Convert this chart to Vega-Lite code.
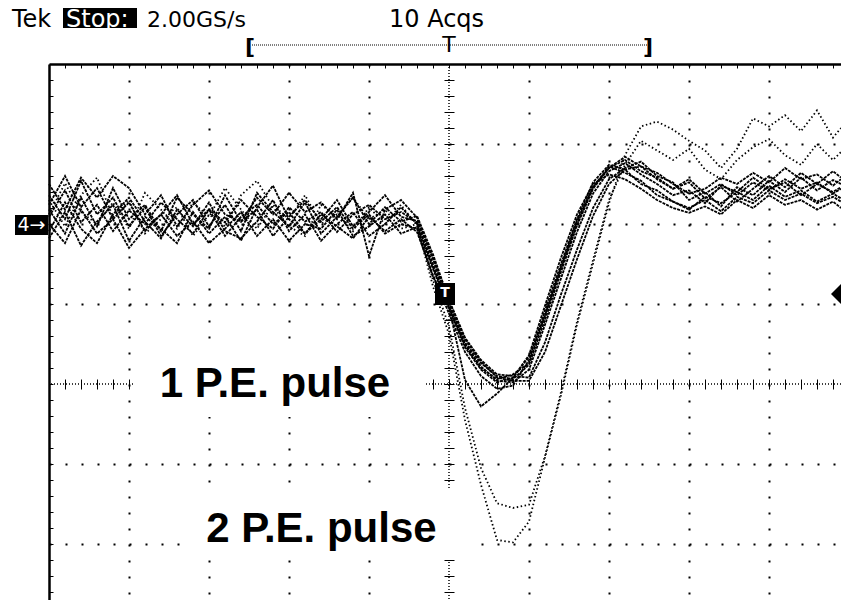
{
  "$schema": "https://vega.github.io/schema/vega-lite/v6.json",
  "width": 792,
  "height": 536,
  "autosize": {"type": "none"},
  "padding": {"left": 49, "top": 64, "right": 0, "bottom": 0},
  "background": "white",
  "config": {"view": {"stroke": null}, "font": "DejaVu Sans"},
  "datasets": {
    "pe1": [
      {"k":"a","t":-5,"v":2.09},{"k":"a","t":-4.8,"v":2.42},{"k":"a","t":-4.6,"v":2.02},{"k":"a","t":-4.4,"v":2.24},{"k":"a","t":-4.2,"v":1.91},{"k":"a","t":-4,"v":2.17},{"k":"a","t":-3.8,"v":2.00},{"k":"a","t":-3.6,"v":2.27},{"k":"a","t":-3.4,"v":2.06},{"k":"a","t":-3.2,"v":1.88},{"k":"a","t":-3,"v":2.18},{"k":"a","t":-2.8,"v":2.02},{"k":"a","t":-2.6,"v":2.30},{"k":"a","t":-2.4,"v":2.09},{"k":"a","t":-2.2,"v":1.94},{"k":"a","t":-2,"v":2.21},{"k":"a","t":-1.8,"v":2.03},{"k":"a","t":-1.6,"v":2.15},{"k":"a","t":-1.4,"v":1.90},{"k":"a","t":-1.2,"v":2.12},{"k":"a","t":-1,"v":2.24},{"k":"a","t":-0.8,"v":2.06},{"k":"a","t":-0.6,"v":2.15},{"k":"a","t":-0.4,"v":2.02},{"k":"a","t":-0.2,"v":1.50},{"k":"a","t":0,"v":0.98},{"k":"a","t":0.2,"v":0.50},{"k":"a","t":0.4,"v":0.22},{"k":"a","t":0.6,"v":0.04},{"k":"a","t":0.8,"v":0.02},{"k":"a","t":1,"v":0.18},{"k":"a","t":1.2,"v":0.74},{"k":"a","t":1.4,"v":1.32},{"k":"a","t":1.6,"v":1.90},{"k":"a","t":1.8,"v":2.38},{"k":"a","t":2,"v":2.66},{"k":"a","t":2.2,"v":2.76},{"k":"a","t":2.4,"v":2.62},{"k":"a","t":2.6,"v":2.50},{"k":"a","t":2.8,"v":2.36},{"k":"a","t":3,"v":2.42},{"k":"a","t":3.2,"v":2.26},{"k":"a","t":3.4,"v":2.48},{"k":"a","t":3.6,"v":2.40},{"k":"a","t":3.8,"v":2.58},{"k":"a","t":4,"v":2.44},{"k":"a","t":4.2,"v":2.52},{"k":"a","t":4.4,"v":2.36},{"k":"a","t":4.6,"v":2.50},{"k":"a","t":4.8,"v":2.40},{"k":"a","t":4.9,"v":2.46},
      {"k":"b","t":-5,"v":2.36},{"k":"b","t":-4.8,"v":2.06},{"k":"b","t":-4.6,"v":2.54},{"k":"b","t":-4.4,"v":2.12},{"k":"b","t":-4.2,"v":2.33},{"k":"b","t":-4,"v":1.97},{"k":"b","t":-3.8,"v":2.21},{"k":"b","t":-3.6,"v":1.85},{"k":"b","t":-3.4,"v":2.12},{"k":"b","t":-3.2,"v":2.30},{"k":"b","t":-3,"v":1.97},{"k":"b","t":-2.8,"v":2.24},{"k":"b","t":-2.6,"v":1.91},{"k":"b","t":-2.4,"v":2.39},{"k":"b","t":-2.2,"v":2.15},{"k":"b","t":-2,"v":1.97},{"k":"b","t":-1.8,"v":2.27},{"k":"b","t":-1.6,"v":1.88},{"k":"b","t":-1.4,"v":2.09},{"k":"b","t":-1.2,"v":2.33},{"k":"b","t":-1,"v":2.00},{"k":"b","t":-0.8,"v":2.21},{"k":"b","t":-0.6,"v":2.03},{"k":"b","t":-0.4,"v":2.10},{"k":"b","t":-0.2,"v":1.62},{"k":"b","t":0,"v":1.05},{"k":"b","t":0.2,"v":0.58},{"k":"b","t":0.4,"v":0.30},{"k":"b","t":0.6,"v":0.12},{"k":"b","t":0.8,"v":0.10},{"k":"b","t":1,"v":0.08},{"k":"b","t":1.2,"v":0.52},{"k":"b","t":1.4,"v":1.12},{"k":"b","t":1.6,"v":1.68},{"k":"b","t":1.8,"v":2.20},{"k":"b","t":2,"v":2.56},{"k":"b","t":2.2,"v":2.70},{"k":"b","t":2.4,"v":2.78},{"k":"b","t":2.6,"v":2.60},{"k":"b","t":2.8,"v":2.52},{"k":"b","t":3,"v":2.30},{"k":"b","t":3.2,"v":2.40},{"k":"b","t":3.4,"v":2.22},{"k":"b","t":3.6,"v":2.46},{"k":"b","t":3.8,"v":2.36},{"k":"b","t":4,"v":2.54},{"k":"b","t":4.2,"v":2.40},{"k":"b","t":4.4,"v":2.58},{"k":"b","t":4.6,"v":2.42},{"k":"b","t":4.8,"v":2.55},{"k":"b","t":4.9,"v":2.50},
      {"k":"c","t":-5,"v":1.82},{"k":"c","t":-4.8,"v":2.15},{"k":"c","t":-4.6,"v":1.73},{"k":"c","t":-4.4,"v":2.03},{"k":"c","t":-4.2,"v":2.24},{"k":"c","t":-4,"v":1.79},{"k":"c","t":-3.8,"v":2.09},{"k":"c","t":-3.6,"v":1.94},{"k":"c","t":-3.4,"v":1.76},{"k":"c","t":-3.2,"v":2.15},{"k":"c","t":-3,"v":1.88},{"k":"c","t":-2.8,"v":2.09},{"k":"c","t":-2.6,"v":1.79},{"k":"c","t":-2.4,"v":2.21},{"k":"c","t":-2.2,"v":2.48},{"k":"c","t":-2,"v":2.06},{"k":"c","t":-1.8,"v":1.88},{"k":"c","t":-1.6,"v":2.12},{"k":"c","t":-1.4,"v":1.97},{"k":"c","t":-1.2,"v":1.82},{"k":"c","t":-1,"v":2.09},{"k":"c","t":-0.8,"v":1.91},{"k":"c","t":-0.6,"v":2.06},{"k":"c","t":-0.4,"v":1.90},{"k":"c","t":-0.2,"v":1.36},{"k":"c","t":0,"v":0.88},{"k":"c","t":0.2,"v":0.40},{"k":"c","t":0.4,"v":0.10},{"k":"c","t":0.6,"v":-0.06},{"k":"c","t":0.8,"v":-0.02},{"k":"c","t":1,"v":0.30},{"k":"c","t":1.2,"v":0.92},{"k":"c","t":1.4,"v":1.50},{"k":"c","t":1.6,"v":2.06},{"k":"c","t":1.8,"v":2.52},{"k":"c","t":2,"v":2.74},{"k":"c","t":2.2,"v":2.68},{"k":"c","t":2.4,"v":2.50},{"k":"c","t":2.6,"v":2.42},{"k":"c","t":2.8,"v":2.28},{"k":"c","t":3,"v":2.18},{"k":"c","t":3.2,"v":2.34},{"k":"c","t":3.4,"v":2.26},{"k":"c","t":3.6,"v":2.40},{"k":"c","t":3.8,"v":2.30},{"k":"c","t":4,"v":2.48},{"k":"c","t":4.2,"v":2.34},{"k":"c","t":4.4,"v":2.42},{"k":"c","t":4.6,"v":2.28},{"k":"c","t":4.8,"v":2.38},{"k":"c","t":4.9,"v":2.32},
      {"k":"d","t":-5,"v":2.50},{"k":"d","t":-4.8,"v":2.18},{"k":"d","t":-4.6,"v":2.58},{"k":"d","t":-4.4,"v":2.33},{"k":"d","t":-4.2,"v":2.60},{"k":"d","t":-4,"v":2.45},{"k":"d","t":-3.8,"v":2.12},{"k":"d","t":-3.6,"v":2.36},{"k":"d","t":-3.4,"v":1.97},{"k":"d","t":-3.2,"v":2.24},{"k":"d","t":-3,"v":2.42},{"k":"d","t":-2.8,"v":2.12},{"k":"d","t":-2.6,"v":2.03},{"k":"d","t":-2.4,"v":2.33},{"k":"d","t":-2.2,"v":2.12},{"k":"d","t":-2,"v":2.39},{"k":"d","t":-1.8,"v":2.15},{"k":"d","t":-1.6,"v":2.27},{"k":"d","t":-1.4,"v":2.06},{"k":"d","t":-1.2,"v":2.39},{"k":"d","t":-1,"v":1.60},{"k":"d","t":-0.8,"v":2.18},{"k":"d","t":-0.6,"v":2.30},{"k":"d","t":-0.4,"v":2.08},{"k":"d","t":-0.2,"v":1.56},{"k":"d","t":0,"v":1.00},{"k":"d","t":0.2,"v":0.52},{"k":"d","t":0.4,"v":0.26},{"k":"d","t":0.6,"v":0.10},{"k":"d","t":0.8,"v":0.06},{"k":"d","t":1,"v":0.24},{"k":"d","t":1.2,"v":0.80},{"k":"d","t":1.4,"v":1.40},{"k":"d","t":1.6,"v":1.98},{"k":"d","t":1.8,"v":2.44},{"k":"d","t":2,"v":2.70},{"k":"d","t":2.2,"v":2.84},{"k":"d","t":2.4,"v":2.72},{"k":"d","t":2.6,"v":2.64},{"k":"d","t":2.8,"v":2.50},{"k":"d","t":3,"v":2.38},{"k":"d","t":3.2,"v":2.44},{"k":"d","t":3.4,"v":2.58},{"k":"d","t":3.6,"v":2.50},{"k":"d","t":3.8,"v":2.64},{"k":"d","t":4,"v":2.52},{"k":"d","t":4.2,"v":2.70},{"k":"d","t":4.4,"v":2.56},{"k":"d","t":4.6,"v":2.62},{"k":"d","t":4.8,"v":2.48},{"k":"d","t":4.9,"v":2.56},
      {"k":"e","t":-5,"v":2.00},{"k":"e","t":-4.8,"v":1.76},{"k":"e","t":-4.6,"v":2.18},{"k":"e","t":-4.4,"v":1.88},{"k":"e","t":-4.2,"v":2.06},{"k":"e","t":-4,"v":1.70},{"k":"e","t":-3.8,"v":1.94},{"k":"e","t":-3.6,"v":2.12},{"k":"e","t":-3.4,"v":1.85},{"k":"e","t":-3.2,"v":2.03},{"k":"e","t":-3,"v":1.76},{"k":"e","t":-2.8,"v":1.94},{"k":"e","t":-2.6,"v":2.15},{"k":"e","t":-2.4,"v":1.85},{"k":"e","t":-2.2,"v":2.06},{"k":"e","t":-2,"v":1.79},{"k":"e","t":-1.8,"v":2.00},{"k":"e","t":-1.6,"v":1.94},{"k":"e","t":-1.4,"v":2.18},{"k":"e","t":-1.2,"v":1.85},{"k":"e","t":-1,"v":1.97},{"k":"e","t":-0.8,"v":2.12},{"k":"e","t":-0.6,"v":1.88},{"k":"e","t":-0.4,"v":1.96},{"k":"e","t":-0.2,"v":1.44},{"k":"e","t":0,"v":0.94},{"k":"e","t":0.2,"v":0.46},{"k":"e","t":0.4,"v":0.18},{"k":"e","t":0.6,"v":0.02},{"k":"e","t":0.8,"v":0.08},{"k":"e","t":1,"v":0.36},{"k":"e","t":1.2,"v":0.98},{"k":"e","t":1.4,"v":1.58},{"k":"e","t":1.6,"v":2.12},{"k":"e","t":1.8,"v":2.50},{"k":"e","t":2,"v":2.62},{"k":"e","t":2.2,"v":2.56},{"k":"e","t":2.4,"v":2.44},{"k":"e","t":2.6,"v":2.30},{"k":"e","t":2.8,"v":2.20},{"k":"e","t":3,"v":2.14},{"k":"e","t":3.2,"v":2.22},{"k":"e","t":3.4,"v":2.12},{"k":"e","t":3.6,"v":2.30},{"k":"e","t":3.8,"v":2.20},{"k":"e","t":4,"v":2.36},{"k":"e","t":4.2,"v":2.24},{"k":"e","t":4.4,"v":2.30},{"k":"e","t":4.6,"v":2.18},{"k":"e","t":4.8,"v":2.28},{"k":"e","t":4.9,"v":2.20},
      {"k":"f","t":-5,"v":2.24},{"k":"f","t":-4.8,"v":2.60},{"k":"f","t":-4.6,"v":2.21},{"k":"f","t":-4.4,"v":2.45},{"k":"f","t":-4.2,"v":2.06},{"k":"f","t":-4,"v":2.27},{"k":"f","t":-3.8,"v":1.91},{"k":"f","t":-3.6,"v":2.12},{"k":"f","t":-3.4,"v":2.36},{"k":"f","t":-3.2,"v":2.00},{"k":"f","t":-3,"v":2.18},{"k":"f","t":-2.8,"v":1.85},{"k":"f","t":-2.6,"v":2.09},{"k":"f","t":-2.4,"v":2.24},{"k":"f","t":-2.2,"v":2.00},{"k":"f","t":-2,"v":2.15},{"k":"f","t":-1.8,"v":1.88},{"k":"f","t":-1.6,"v":2.06},{"k":"f","t":-1.4,"v":2.30},{"k":"f","t":-1.2,"v":1.97},{"k":"f","t":-1,"v":2.15},{"k":"f","t":-0.8,"v":2.36},{"k":"f","t":-0.6,"v":2.09},{"k":"f","t":-0.4,"v":2.04},{"k":"f","t":-0.2,"v":1.58},{"k":"f","t":0,"v":1.04},{"k":"f","t":0.2,"v":0.56},{"k":"f","t":0.4,"v":0.28},{"k":"f","t":0.6,"v":0.08},{"k":"f","t":0.8,"v":0.04},{"k":"f","t":1,"v":0.04},{"k":"f","t":1.2,"v":0.40},{"k":"f","t":1.4,"v":0.98},{"k":"f","t":1.6,"v":1.56},{"k":"f","t":1.8,"v":2.10},{"k":"f","t":2,"v":2.50},{"k":"f","t":2.2,"v":2.68},{"k":"f","t":2.4,"v":2.72},{"k":"f","t":2.6,"v":2.56},{"k":"f","t":2.8,"v":2.44},{"k":"f","t":3,"v":2.52},{"k":"f","t":3.2,"v":2.32},{"k":"f","t":3.4,"v":2.46},{"k":"f","t":3.6,"v":2.28},{"k":"f","t":3.8,"v":2.44},{"k":"f","t":4,"v":2.60},{"k":"f","t":4.2,"v":2.46},{"k":"f","t":4.4,"v":2.64},{"k":"f","t":4.6,"v":2.50},{"k":"f","t":4.8,"v":2.66},{"k":"f","t":4.9,"v":2.58},
      {"k":"g","t":-5,"v":2.18},{"k":"g","t":-4.8,"v":1.88},{"k":"g","t":-4.6,"v":2.33},{"k":"g","t":-4.4,"v":1.97},{"k":"g","t":-4.2,"v":2.45},{"k":"g","t":-4,"v":2.06},{"k":"g","t":-3.8,"v":2.24},{"k":"g","t":-3.6,"v":1.91},{"k":"g","t":-3.4,"v":2.33},{"k":"g","t":-3.2,"v":2.12},{"k":"g","t":-3,"v":1.94},{"k":"g","t":-2.8,"v":2.36},{"k":"g","t":-2.6,"v":2.03},{"k":"g","t":-2.4,"v":2.18},{"k":"g","t":-2.2,"v":1.85},{"k":"g","t":-2,"v":2.09},{"k":"g","t":-1.8,"v":2.30},{"k":"g","t":-1.6,"v":2.03},{"k":"g","t":-1.4,"v":2.21},{"k":"g","t":-1.2,"v":1.94},{"k":"g","t":-1,"v":2.12},{"k":"g","t":-0.8,"v":1.88},{"k":"g","t":-0.6,"v":2.00},{"k":"g","t":-0.4,"v":1.94},{"k":"g","t":-0.2,"v":1.34},{"k":"g","t":0,"v":0.96},{"k":"g","t":0.2,"v":0.05},{"k":"g","t":0.4,"v":-0.28},{"k":"g","t":0.6,"v":-0.12},{"k":"g","t":0.8,"v":0.08},{"k":"g","t":1,"v":0.34},{"k":"g","t":1.2,"v":0.86},{"k":"g","t":1.4,"v":1.44},{"k":"g","t":1.6,"v":2.00},{"k":"g","t":1.8,"v":2.46},{"k":"g","t":2,"v":2.70},{"k":"g","t":2.2,"v":2.80},{"k":"g","t":2.4,"v":2.66},{"k":"g","t":2.6,"v":2.58},{"k":"g","t":2.8,"v":2.44},{"k":"g","t":3,"v":2.56},{"k":"g","t":3.2,"v":2.38},{"k":"g","t":3.4,"v":2.50},{"k":"g","t":3.6,"v":2.36},{"k":"g","t":3.8,"v":2.52},{"k":"g","t":4,"v":2.42},{"k":"g","t":4.2,"v":2.56},{"k":"g","t":4.4,"v":2.44},{"k":"g","t":4.6,"v":2.52},{"k":"g","t":4.8,"v":2.38},{"k":"g","t":4.9,"v":2.44},
      {"k":"h","t":-5,"v":1.91},{"k":"h","t":-4.8,"v":2.27},{"k":"h","t":-4.6,"v":1.94},{"k":"h","t":-4.4,"v":1.76},{"k":"h","t":-4.2,"v":2.12},{"k":"h","t":-4,"v":2.33},{"k":"h","t":-3.8,"v":2.03},{"k":"h","t":-3.6,"v":1.82},{"k":"h","t":-3.4,"v":2.18},{"k":"h","t":-3.2,"v":1.97},{"k":"h","t":-3,"v":2.27},{"k":"h","t":-2.8,"v":1.91},{"k":"h","t":-2.6,"v":1.82},{"k":"h","t":-2.4,"v":2.03},{"k":"h","t":-2.2,"v":2.30},{"k":"h","t":-2,"v":1.91},{"k":"h","t":-1.8,"v":2.12},{"k":"h","t":-1.6,"v":1.79},{"k":"h","t":-1.4,"v":2.00},{"k":"h","t":-1.2,"v":2.15},{"k":"h","t":-1,"v":1.85},{"k":"h","t":-0.8,"v":2.00},{"k":"h","t":-0.6,"v":2.21},{"k":"h","t":-0.4,"v":2.00},{"k":"h","t":-0.2,"v":1.46},{"k":"h","t":0,"v":0.96},{"k":"h","t":0.2,"v":0.48},{"k":"h","t":0.4,"v":0.20},{"k":"h","t":0.6,"v":0.06},{"k":"h","t":0.8,"v":0.12},{"k":"h","t":1,"v":0.26},{"k":"h","t":1.2,"v":0.86},{"k":"h","t":1.4,"v":1.46},{"k":"h","t":1.6,"v":2.04},{"k":"h","t":1.8,"v":2.46},{"k":"h","t":2,"v":2.72},{"k":"h","t":2.2,"v":2.64},{"k":"h","t":2.4,"v":2.54},{"k":"h","t":2.6,"v":2.36},{"k":"h","t":2.8,"v":2.28},{"k":"h","t":3,"v":2.20},{"k":"h","t":3.2,"v":2.30},{"k":"h","t":3.4,"v":2.16},{"k":"h","t":3.6,"v":2.34},{"k":"h","t":3.8,"v":2.26},{"k":"h","t":4,"v":2.42},{"k":"h","t":4.2,"v":2.30},{"k":"h","t":4.4,"v":2.38},{"k":"h","t":4.6,"v":2.26},{"k":"h","t":4.8,"v":2.34},{"k":"h","t":4.9,"v":2.28}
    ],
    "pe2": [
      {"k":"i","t":-5,"v":2.12},{"k":"i","t":-4.8,"v":2.51},{"k":"i","t":-4.6,"v":2.15},{"k":"i","t":-4.4,"v":2.00},{"k":"i","t":-4.2,"v":2.27},{"k":"i","t":-4,"v":1.94},{"k":"i","t":-3.8,"v":2.39},{"k":"i","t":-3.6,"v":2.18},{"k":"i","t":-3.4,"v":1.94},{"k":"i","t":-3.2,"v":2.27},{"k":"i","t":-3,"v":2.09},{"k":"i","t":-2.8,"v":2.45},{"k":"i","t":-2.6,"v":2.18},{"k":"i","t":-2.4,"v":1.94},{"k":"i","t":-2.2,"v":2.24},{"k":"i","t":-2,"v":2.06},{"k":"i","t":-1.8,"v":2.36},{"k":"i","t":-1.6,"v":2.00},{"k":"i","t":-1.4,"v":2.12},{"k":"i","t":-1.2,"v":1.91},{"k":"i","t":-1,"v":2.21},{"k":"i","t":-0.8,"v":2.00},{"k":"i","t":-0.6,"v":2.24},{"k":"i","t":-0.4,"v":1.98},{"k":"i","t":-0.2,"v":1.22},{"k":"i","t":0,"v":0.62},{"k":"i","t":0.2,"v":-0.45},{"k":"i","t":0.4,"v":-1.26},{"k":"i","t":0.6,"v":-1.95},{"k":"i","t":0.8,"v":-1.98},{"k":"i","t":1,"v":-1.72},{"k":"i","t":1.2,"v":-0.92},{"k":"i","t":1.4,"v":-0.14},{"k":"i","t":1.6,"v":0.74},{"k":"i","t":1.8,"v":1.50},{"k":"i","t":2,"v":2.26},{"k":"i","t":2.2,"v":2.86},{"k":"i","t":2.4,"v":3.22},{"k":"i","t":2.6,"v":3.28},{"k":"i","t":2.8,"v":3.18},{"k":"i","t":3,"v":3.04},{"k":"i","t":3.2,"v":2.92},{"k":"i","t":3.4,"v":2.70},{"k":"i","t":3.6,"v":2.94},{"k":"i","t":3.8,"v":3.32},{"k":"i","t":4,"v":3.22},{"k":"i","t":4.2,"v":3.36},{"k":"i","t":4.4,"v":3.16},{"k":"i","t":4.6,"v":3.42},{"k":"i","t":4.8,"v":3.08},{"k":"i","t":4.9,"v":3.20},
      {"k":"j","t":-5,"v":2.30},{"k":"j","t":-4.8,"v":1.97},{"k":"j","t":-4.6,"v":2.36},{"k":"j","t":-4.4,"v":2.58},{"k":"j","t":-4.2,"v":2.09},{"k":"j","t":-4,"v":2.30},{"k":"j","t":-3.8,"v":1.88},{"k":"j","t":-3.6,"v":2.06},{"k":"j","t":-3.4,"v":2.21},{"k":"j","t":-3.2,"v":1.85},{"k":"j","t":-3,"v":2.12},{"k":"j","t":-2.8,"v":1.97},{"k":"j","t":-2.6,"v":2.36},{"k":"j","t":-2.4,"v":2.54},{"k":"j","t":-2.2,"v":2.21},{"k":"j","t":-2,"v":1.97},{"k":"j","t":-1.8,"v":1.85},{"k":"j","t":-1.6,"v":2.24},{"k":"j","t":-1.4,"v":2.09},{"k":"j","t":-1.2,"v":2.33},{"k":"j","t":-1,"v":2.06},{"k":"j","t":-0.8,"v":2.18},{"k":"j","t":-0.6,"v":1.94},{"k":"j","t":-0.4,"v":2.00},{"k":"j","t":-0.2,"v":1.30},{"k":"j","t":0,"v":0.72},{"k":"j","t":0.2,"v":-0.30},{"k":"j","t":0.4,"v":-1.05},{"k":"j","t":0.6,"v":-1.49},{"k":"j","t":0.8,"v":-1.55},{"k":"j","t":1,"v":-1.51},{"k":"j","t":1.2,"v":-0.90},{"k":"j","t":1.4,"v":-0.10},{"k":"j","t":1.6,"v":0.78},{"k":"j","t":1.8,"v":1.55},{"k":"j","t":2,"v":2.30},{"k":"j","t":2.2,"v":2.74},{"k":"j","t":2.4,"v":3.04},{"k":"j","t":2.6,"v":2.92},{"k":"j","t":2.8,"v":2.80},{"k":"j","t":3,"v":2.94},{"k":"j","t":3.2,"v":2.68},{"k":"j","t":3.4,"v":2.56},{"k":"j","t":3.6,"v":2.80},{"k":"j","t":3.8,"v":2.96},{"k":"j","t":4,"v":3.06},{"k":"j","t":4.2,"v":2.86},{"k":"j","t":4.4,"v":2.74},{"k":"j","t":4.6,"v":3.00},{"k":"j","t":4.8,"v":2.80},{"k":"j","t":4.9,"v":2.90}
    ],
    "one": [{}]
  },
  "resolve": {"axis": {"x": "independent", "y": "independent"}},
  "layer": [
    {
      "data": {"name": "one"},
      "mark": {"type": "rule", "stroke": "black", "strokeWidth": 1.5, "strokeDash": [1, 2]},
      "encoding": {
        "y": {"datum": 0, "type": "quantitative", "scale": {"domain": [-2.7, 4], "nice": false, "zero": false},
          "axis": {"orient": "left", "offset": -405, "values": [-2.6,-2.4,-2.2,-2,-1.8,-1.6,-1.4,-1.2,-1,-0.8,-0.6,-0.4,-0.2,0,0.2,0.4,0.6,0.8,1,1.2,1.4,1.6,1.8,2,2.2,2.4,2.6,2.8,3,3.2,3.4,3.6,3.8],
            "tickSize": 10, "tickColor": "black", "tickWidth": 1, "domain": false, "labels": false, "grid": false, "title": null}}
      }
    },
    {
      "data": {"name": "one"},
      "mark": {"type": "rule", "stroke": "black", "strokeWidth": 1.5, "strokeDash": [1, 2]},
      "encoding": {
        "x": {"datum": 0, "type": "quantitative", "scale": {"domain": [-5, 4.9], "nice": false, "zero": false},
          "axis": {"orient": "top", "offset": -325, "values": [-5,-4.8,-4.6,-4.4,-4.2,-4,-3.8,-3.6,-3.4,-3.2,-3,-2.8,-2.6,-2.4,-2.2,-2,-1.8,-1.6,-1.4,-1.2,-1,-0.8,-0.6,-0.4,-0.2,0,0.2,0.4,0.6,0.8,1,1.2,1.4,1.6,1.8,2,2.2,2.4,2.6,2.8,3,3.2,3.4,3.6,3.8,4,4.2,4.4,4.6,4.8],
            "tickSize": 10, "tickColor": "black", "tickWidth": 1, "domain": false, "labels": false, "grid": false, "title": null}}
      }
    },
    {
      "data": {"name": "one"},
      "mark": {"type": "rect", "fill": "white"},
      "encoding": {
        "x": {"datum": -3.95, "type": "quantitative", "scale": {"domain": [-5, 4.9], "nice": false, "zero": false}, "axis": null},
        "x2": {"datum": -0.3},
        "y": {"datum": 0.4875, "type": "quantitative", "scale": {"domain": [-2.7, 4], "nice": false, "zero": false}, "axis": null},
        "y2": {"datum": -0.4125}
      }
    },
    {
      "data": {"name": "one"},
      "mark": {"type": "text", "font": "Liberation Sans", "fontSize": 42, "fontWeight": "bold", "align": "center", "baseline": "alphabetic", "color": "black"},
      "encoding": {
        "x": {"datum": -2.175, "type": "quantitative", "scale": {"domain": [-5, 4.9], "nice": false, "zero": false}, "axis": null},
        "y": {"datum": -0.1625, "type": "quantitative", "scale": {"domain": [-2.7, 4], "nice": false, "zero": false}, "axis": null},
        "text": {"value": "1 P.E. pulse"}
      }
    },
    {
      "data": {"name": "one"},
      "mark": {"type": "rect", "fill": "white"},
      "encoding": {
        "x": {"datum": -3.3375, "type": "quantitative", "scale": {"domain": [-5, 4.9], "nice": false, "zero": false}, "axis": null},
        "x2": {"datum": 0.2625},
        "y": {"datum": -1.325, "type": "quantitative", "scale": {"domain": [-2.7, 4], "nice": false, "zero": false}, "axis": null},
        "y2": {"datum": -2.2}
      }
    },
    {
      "data": {"name": "one"},
      "mark": {"type": "text", "font": "Liberation Sans", "fontSize": 42, "fontWeight": "bold", "align": "center", "baseline": "alphabetic", "color": "black"},
      "encoding": {
        "x": {"datum": -1.594, "type": "quantitative", "scale": {"domain": [-5, 4.9], "nice": false, "zero": false}, "axis": null},
        "y": {"datum": -1.975, "type": "quantitative", "scale": {"domain": [-2.7, 4], "nice": false, "zero": false}, "axis": null},
        "text": {"value": "2 P.E. pulse"}
      }
    },
    {
      "data": {"name": "pe1"},
      "mark": {"type": "line", "stroke": "black", "strokeWidth": 1.8, "strokeDash": [3, 1]},
      "encoding": {
        "x": {"field": "t", "type": "quantitative", "scale": {"domain": [-5, 4.9], "nice": false, "zero": false},
          "axis": {"orient": "bottom", "values": [-4,-3,-2,-1,1,2,3,4], "domain": false, "ticks": false, "labels": false, "title": null,
            "grid": true, "gridColor": "black", "gridOpacity": 1, "gridWidth": 2, "gridDash": [2, 14]}},
        "y": {"field": "v", "type": "quantitative", "scale": {"domain": [-2.7, 4], "nice": false, "zero": false},
          "axis": {"orient": "left", "values": [-2,-1,1,2,3], "domain": false, "ticks": false, "labels": false, "title": null,
            "grid": true, "gridColor": "black", "gridOpacity": 1, "gridWidth": 2, "gridDash": [2, 14]}},
        "detail": {"field": "k"}
      }
    },
    {
      "data": {"name": "pe2"},
      "mark": {"type": "line", "stroke": "black", "strokeWidth": 1.8, "strokeDash": [1.5, 2.5]},
      "encoding": {
        "x": {"field": "t", "type": "quantitative", "scale": {"domain": [-5, 4.9], "nice": false, "zero": false},
          "axis": {"orient": "top", "values": [-5,-4.8,-4.6,-4.4,-4.2,-4,-3.8,-3.6,-3.4,-3.2,-3,-2.8,-2.6,-2.4,-2.2,-2,-1.8,-1.6,-1.4,-1.2,-1,-0.8,-0.6,-0.4,-0.2,0,0.2,0.4,0.6,0.8,1,1.2,1.4,1.6,1.8,2,2.2,2.4,2.6,2.8,3,3.2,3.4,3.6,3.8,4,4.2,4.4,4.6,4.8],
            "domain": true, "domainColor": "black", "domainWidth": 2.5, "tickSize": -4, "tickColor": "black", "tickWidth": 1, "labels": false, "grid": false, "title": null}},
        "y": {"field": "v", "type": "quantitative", "scale": {"domain": [-2.7, 4], "nice": false, "zero": false},
          "axis": {"orient": "left", "values": [-2.6,-2.4,-2.2,-2,-1.8,-1.6,-1.4,-1.2,-1,-0.8,-0.6,-0.4,-0.2,0,0.2,0.4,0.6,0.8,1,1.2,1.4,1.6,1.8,2,2.2,2.4,2.6,2.8,3,3.2,3.4,3.6,3.8],
            "domain": true, "domainColor": "black", "domainWidth": 2.5, "tickSize": -4, "tickColor": "black", "tickWidth": 1, "labels": false, "grid": false, "title": null}},
        "detail": {"field": "k"}
      }
    },
    {
      "data": {"name": "one"},
      "mark": {"type": "rect", "fill": "black"},
      "encoding": {
        "x": {"datum": -0.175, "type": "quantitative", "scale": {"domain": [-5, 4.9], "nice": false, "zero": false}, "axis": null},
        "x2": {"datum": 0.075},
        "y": {"datum": 1.2625, "type": "quantitative", "scale": {"domain": [-2.7, 4], "nice": false, "zero": false}, "axis": null},
        "y2": {"datum": 0.9875}
      }
    },
    {
      "data": {"name": "one"},
      "mark": {"type": "text", "font": "DejaVu Sans", "fontSize": 14, "fontWeight": "bold", "align": "center", "baseline": "middle", "color": "white"},
      "encoding": {
        "x": {"datum": -0.05, "type": "quantitative", "scale": {"domain": [-5, 4.9], "nice": false, "zero": false}, "axis": null},
        "y": {"datum": 1.14, "type": "quantitative", "scale": {"domain": [-2.7, 4], "nice": false, "zero": false}, "axis": null},
        "text": {"value": "T"}
      }
    },
    {
      "data": {"name": "one"},
      "mark": {"type": "point", "shape": "diamond", "size": 400, "filled": true, "color": "black", "opacity": 1},
      "encoding": {
        "x": {"datum": 4.9, "type": "quantitative", "scale": {"domain": [-5, 4.9], "nice": false, "zero": false}, "axis": null},
        "y": {"datum": 1.125, "type": "quantitative", "scale": {"domain": [-2.7, 4], "nice": false, "zero": false}, "axis": null}
      }
    },
    {
      "data": {"name": "one"},
      "mark": {"type": "rect", "fill": "black"},
      "encoding": {
        "x": {"datum": -5.425, "type": "quantitative", "scale": {"domain": [-5, 4.9], "nice": false, "zero": false}, "axis": null},
        "x2": {"datum": -5.0125},
        "y": {"datum": 2.1125, "type": "quantitative", "scale": {"domain": [-2.7, 4], "nice": false, "zero": false}, "axis": null},
        "y2": {"datum": 1.8625}
      }
    },
    {
      "data": {"name": "one"},
      "mark": {"type": "text", "font": "DejaVu Sans", "fontSize": 19, "align": "center", "baseline": "middle", "color": "white"},
      "encoding": {
        "x": {"datum": -5.22, "type": "quantitative", "scale": {"domain": [-5, 4.9], "nice": false, "zero": false}, "axis": null},
        "y": {"datum": 1.9875, "type": "quantitative", "scale": {"domain": [-2.7, 4], "nice": false, "zero": false}, "axis": null},
        "text": {"value": "4→"}
      }
    },
    {
      "data": {"name": "one"},
      "mark": {"type": "text", "font": "DejaVu Sans", "fontSize": 24, "align": "left", "baseline": "alphabetic", "color": "black"},
      "encoding": {
        "x": {"datum": -5.4625, "type": "quantitative", "scale": {"domain": [-5, 4.9], "nice": false, "zero": false}, "axis": null},
        "y": {"datum": 4.4625, "type": "quantitative", "scale": {"domain": [-2.7, 4], "nice": false, "zero": false}, "axis": null},
        "text": {"value": "Tek"}
      }
    },
    {
      "data": {"name": "one"},
      "mark": {"type": "rect", "fill": "black"},
      "encoding": {
        "x": {"datum": -4.825, "type": "quantitative", "scale": {"domain": [-5, 4.9], "nice": false, "zero": false}, "axis": null},
        "x2": {"datum": -3.9},
        "y": {"datum": 4.7, "type": "quantitative", "scale": {"domain": [-2.7, 4], "nice": false, "zero": false}, "axis": null},
        "y2": {"datum": 4.45}
      }
    },
    {
      "data": {"name": "one"},
      "mark": {"type": "text", "font": "DejaVu Sans", "fontSize": 24, "align": "left", "baseline": "alphabetic", "color": "white"},
      "encoding": {
        "x": {"datum": -4.7875, "type": "quantitative", "scale": {"domain": [-5, 4.9], "nice": false, "zero": false}, "axis": null},
        "y": {"datum": 4.4625, "type": "quantitative", "scale": {"domain": [-2.7, 4], "nice": false, "zero": false}, "axis": null},
        "text": {"value": "Stop:"}
      }
    },
    {
      "data": {"name": "one"},
      "mark": {"type": "text", "font": "DejaVu Sans", "fontSize": 22, "align": "left", "baseline": "alphabetic", "color": "black"},
      "encoding": {
        "x": {"datum": -3.775, "type": "quantitative", "scale": {"domain": [-5, 4.9], "nice": false, "zero": false}, "axis": null},
        "y": {"datum": 4.4625, "type": "quantitative", "scale": {"domain": [-2.7, 4], "nice": false, "zero": false}, "axis": null},
        "text": {"value": "2.00GS/s"}
      }
    },
    {
      "data": {"name": "one"},
      "mark": {"type": "text", "font": "DejaVu Sans", "fontSize": 24, "align": "left", "baseline": "alphabetic", "color": "black"},
      "encoding": {
        "x": {"datum": -0.75, "type": "quantitative", "scale": {"domain": [-5, 4.9], "nice": false, "zero": false}, "axis": null},
        "y": {"datum": 4.4625, "type": "quantitative", "scale": {"domain": [-2.7, 4], "nice": false, "zero": false}, "axis": null},
        "text": {"value": "10 Acqs"}
      }
    },
    {
      "data": {"name": "one"},
      "mark": {"type": "rule", "stroke": "black", "strokeWidth": 1, "strokeDash": [1, 1]},
      "encoding": {
        "x": {"datum": -2.4625, "type": "quantitative", "scale": {"domain": [-5, 4.9], "nice": false, "zero": false}, "axis": null},
        "x2": {"datum": 2.4875},
        "y": {"datum": 4.2375, "type": "quantitative", "scale": {"domain": [-2.7, 4], "nice": false, "zero": false}, "axis": null}
      }
    },
    {
      "data": {"name": "one"},
      "mark": {"type": "text", "font": "DejaVu Sans", "fontSize": 22, "fontWeight": "bold", "align": "left", "baseline": "alphabetic", "color": "black"},
      "encoding": {
        "x": {"datum": -2.55, "type": "quantitative", "scale": {"domain": [-5, 4.9], "nice": false, "zero": false}, "axis": null},
        "y": {"datum": 4.125, "type": "quantitative", "scale": {"domain": [-2.7, 4], "nice": false, "zero": false}, "axis": null},
        "text": {"value": "["}
      }
    },
    {
      "data": {"name": "one"},
      "mark": {"type": "text", "font": "DejaVu Sans", "fontSize": 22, "fontWeight": "bold", "align": "right", "baseline": "alphabetic", "color": "black"},
      "encoding": {
        "x": {"datum": 2.55, "type": "quantitative", "scale": {"domain": [-5, 4.9], "nice": false, "zero": false}, "axis": null},
        "y": {"datum": 4.125, "type": "quantitative", "scale": {"domain": [-2.7, 4], "nice": false, "zero": false}, "axis": null},
        "text": {"value": "]"}
      }
    },
    {
      "data": {"name": "one"},
      "mark": {"type": "text", "font": "DejaVu Sans", "fontSize": 22, "align": "center", "baseline": "alphabetic", "color": "black"},
      "encoding": {
        "x": {"datum": 0, "type": "quantitative", "scale": {"domain": [-5, 4.9], "nice": false, "zero": false}, "axis": null},
        "y": {"datum": 4.15, "type": "quantitative", "scale": {"domain": [-2.7, 4], "nice": false, "zero": false}, "axis": null},
        "text": {"value": "T"}
      }
    }
  ]
}
